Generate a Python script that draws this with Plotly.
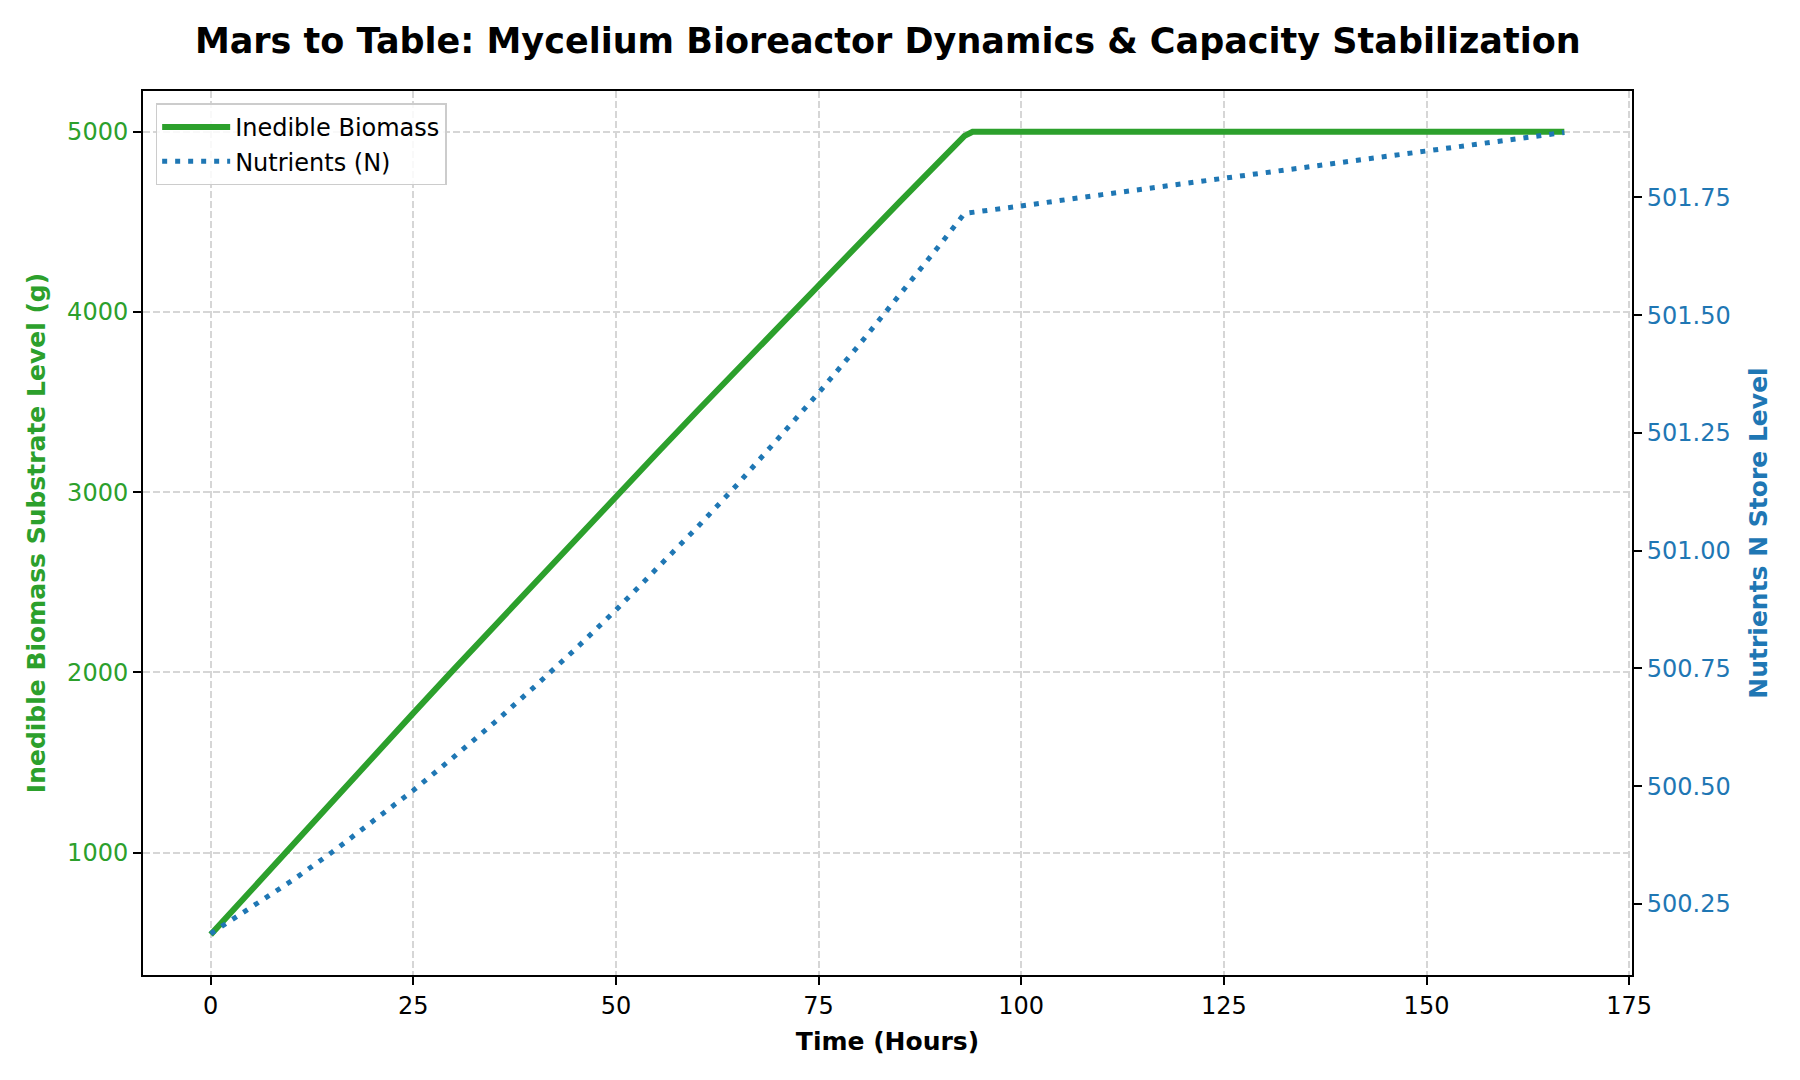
import plotly.graph_objects as go

# ---- data ----
hours = [0, 5, 10, 15, 20, 25, 30, 35, 40, 45, 50, 55, 60, 65, 70, 75, 80, 85, 90, 93, 94,
         100, 110, 120, 130, 140, 150, 160, 167]
inedible_biomass = [545, 793, 1040, 1286, 1531, 1774, 2017, 2258, 2499, 2738, 2976, 3213,
                    3449, 3683, 3917, 4150, 4381, 4611, 4840, 4977, 5000,
                    5000, 5000, 5000, 5000, 5000, 5000, 5000, 5000]
nutrients_n = [500.187, 500.242, 500.299, 500.360, 500.424, 500.491, 500.562, 500.635,
               500.712, 500.791, 500.874, 500.960, 501.049, 501.141, 501.237, 501.335,
               501.437, 501.542, 501.650, 501.716, 501.718,
               501.732, 501.756, 501.779, 501.802, 501.825, 501.849, 501.872, 501.888]

x_ticks = [0, 25, 50, 75, 100, 125, 150, 175]
left_ticks = [1000, 2000, 3000, 4000, 5000]
right_ticks = [500.25, 500.50, 500.75, 501.00, 501.25, 501.50, 501.75]

title_text = "Mars to Table: Mycelium Bioreactor Dynamics & Capacity Stabilization"
x_label = "Time (Hours)"
left_label = "Inedible Biomass Substrate Level (g)"
right_label = "Nutrients N Store Level"

GREEN = "#2ca02c"
BLUE = "#1f77b4"
FONT = "DejaVu Sans"
GRID = "#d6d6d6"

fig = go.Figure()
fig.add_trace(go.Scatter(
    x=hours, y=inedible_biomass, name="Inedible Biomass", mode="lines",
    line=dict(color=GREEN, width=6), yaxis="y"))
fig.add_trace(go.Scatter(
    x=hours, y=nutrients_n, name="Nutrients (N)", mode="lines",
    line=dict(color=BLUE, width=5, dash="5px,8px"), yaxis="y2"))

fig.update_layout(
    width=1800, height=1080,
    margin=dict(l=143, r=168, t=91, b=105),
    paper_bgcolor="white", plot_bgcolor="white",
    font=dict(family=FONT, size=24, color="black"),
    title=dict(text=title_text, x=0.4932, xanchor="center", y=1 - 41 / 1080,
               yanchor="middle", yref="container",
               font=dict(family=FONT, size=35, color="black", weight="bold")),
    xaxis=dict(
        range=[-8.35, 175.35], tickmode="array", tickvals=x_ticks,
        showline=True, mirror=True, linecolor="black", linewidth=2,
        ticks="outside", ticklen=8, tickwidth=2, tickcolor="black",
        showgrid=True, gridcolor=GRID, gridwidth=1.5, griddash="7px,3px",
        zeroline=False, tickfont=dict(size=24, color="black"),
        title=dict(text=x_label, standoff=14,
                   font=dict(size=25, color="black", weight="bold")),
    ),
    yaxis=dict(
        range=[321, 5226], tickmode="array", tickvals=left_ticks,
        showline=True, mirror=False, linecolor="black", linewidth=2,
        ticks="outside", ticklen=8, tickwidth=2, tickcolor="black",
        showgrid=True, gridcolor=GRID, gridwidth=1.5, griddash="7px,3px",
        zeroline=False, tickfont=dict(size=24, color=GREEN),
        title=dict(text=left_label, standoff=14,
                   font=dict(size=25, color=GREEN, weight="bold")),
    ),
    yaxis2=dict(
        range=[500.099, 501.976], tickmode="array", tickvals=right_ticks,
        tickformat=".2f", overlaying="y", side="right",
        showline=True, linecolor="black", linewidth=2,
        ticks="outside", ticklen=8, tickwidth=2, tickcolor="black",
        showgrid=False, zeroline=False, tickfont=dict(size=24, color=BLUE),
        title=dict(text=right_label, standoff=20,
                   font=dict(size=25, color=BLUE, weight="bold")),
    ),
    legend=dict(
        x=0.0085, y=0.986, xanchor="left", yanchor="top",
        bgcolor="rgba(255,255,255,0.85)", bordercolor="#cccccc", borderwidth=1.5,
        itemwidth=68,
        font=dict(family=FONT, size=24, color="black"),
    ),
    showlegend=True,
)

fig.write_html("out.html")
